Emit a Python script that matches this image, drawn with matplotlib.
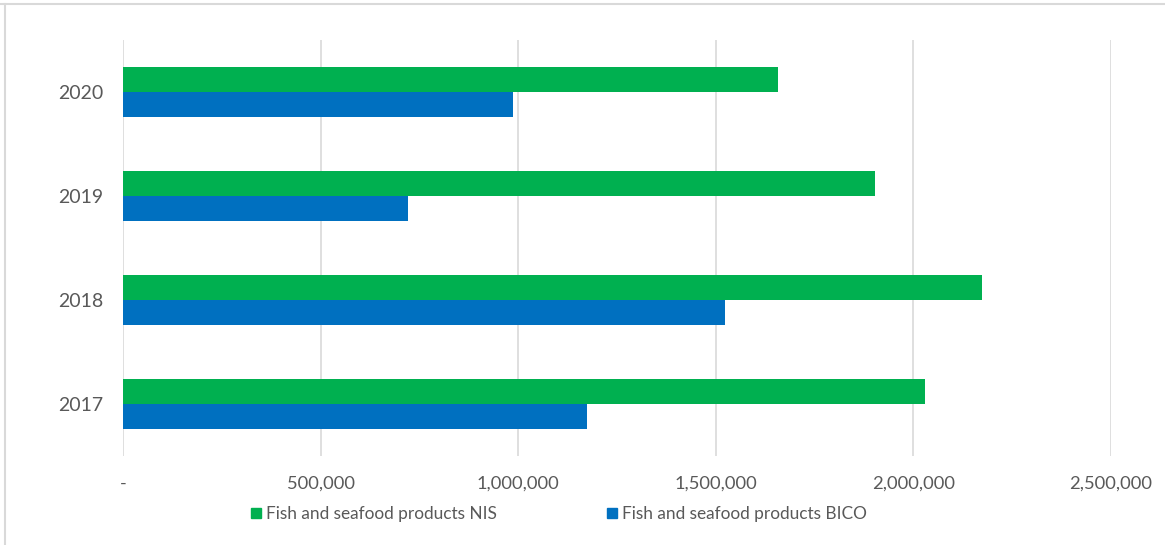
import matplotlib.pyplot as plt
from matplotlib.lines import Line2D
from matplotlib.ticker import FuncFormatter

years = ['2017', '2018', '2019', '2020']
nis = [2029000, 2173000, 1903000, 1657000]
bico = [1174000, 1523000, 721000, 987000]
xticks = [0, 500000, 1000000, 1500000, 2000000, 2500000]

green = '#00B050'
blue = '#0070C0'
txt = '#595959'

plt.rcParams['font.family'] = ['Lato', 'DejaVu Sans']

fig = plt.figure(figsize=(11.65, 5.45), dpi=100)
ax = fig.add_axes([0.1056, 0.1633, 0.848, 0.7633])

pos = list(range(len(years)))
h = 0.24
ax.barh([p + h / 2 for p in pos], nis, height=h, color=green, zorder=3)
ax.barh([p - h / 2 for p in pos], bico, height=h, color=blue, zorder=3)

ax.set_ylim(-0.5, 3.5)
ax.set_xlim(0, 2500000)
ax.set_yticks(pos)
ax.set_yticklabels(years)
ax.set_xticks(xticks)
ax.xaxis.set_major_formatter(FuncFormatter(lambda v, _: '-' if v == 0 else f'{int(v):,}'))
ax.tick_params(axis='both', length=0, labelsize=13.2, colors=txt)
ax.tick_params(axis='y', pad=14, labelsize=14)
ax.tick_params(axis='x', pad=14)
ax.grid(axis='x', color='#D9D9D9', linewidth=1.2, zorder=0)
for s in ax.spines.values():
    s.set_visible(False)

handles = [Line2D([], [], marker='s', linestyle='', color=green, markersize=7.5),
           Line2D([], [], marker='s', linestyle='', color=blue, markersize=7.5)]
fig.legend(handles, ['Fish and seafood products NIS', 'Fish and seafood products BICO'],
           loc='center', bbox_to_anchor=(558 / 1165, 1 - 514 / 545), ncol=2, frameon=False,
           fontsize=12.4, labelcolor=txt, handlelength=0.8, handletextpad=0.2,
           columnspacing=6.3)

# chart frame (top and left edges are visible in the original crop)
fig.add_artist(Line2D([0, 1], [1 - 4 / 545, 1 - 4 / 545], color='#D9D9D9', linewidth=1.5))
fig.add_artist(Line2D([5 / 1165, 5 / 1165], [0, 1 - 4 / 545], color='#D9D9D9', linewidth=1.5))

fig.savefig('out.png', dpi=100)
